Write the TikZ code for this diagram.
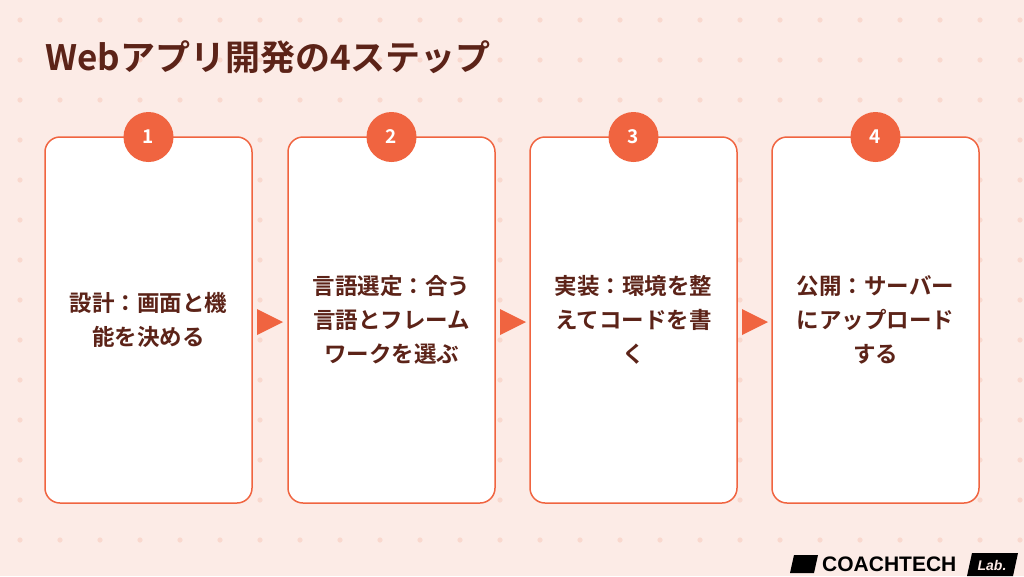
\documentclass[tikz,border=0pt]{standalone}
\usepackage{fontspec}
\newfontfamily\jp{Noto Sans CJK JP Bold}
\newfontfamily\lat{Liberation Sans}
\begin{document}
\begin{tikzpicture}[x=1pt,y=-1pt,
  box/.style={draw=acc,line width=1.5pt,fill=white,rounded corners=15pt},
  num/.style={circle,fill=acc,minimum size=50pt,inner sep=0pt,text=white,font=\jp\fontsize{19}{19}\selectfont},
  lbl/.style={align=center,text=brn,font=\jp\fontsize{22.5}{34}\selectfont},
  arr/.style={fill=acc}]
\definecolor{bg}{HTML}{FCEBE6}
\definecolor{dot}{HTML}{F9D8CE}
\definecolor{acc}{HTML}{F06440}
\definecolor{brn}{HTML}{5C2318}
\useasboundingbox (0,0) rectangle (1024,576);
\fill[bg] (0,0) rectangle (1024,576);
\foreach \i in {0,...,25} \foreach \j in {0,...,14}
  \fill[dot] (20+40*\i,20+40*\j) circle (2.6);
\node[anchor=west,text=brn,font=\jp\fontsize{35}{35}\selectfont,inner sep=0] (title) at (45,57) {Webアプリ開発の4ステップ};
\foreach \k/\x/\t in {1/45/{設計：画面と機\\能を決める},2/288/{言語選定：合う\\言語とフレーム\\ワークを選ぶ},3/530/{実装：環境を整\\えてコードを書\\く},4/772/{公開：サーバー\\にアップロード\\する}}{
  \draw[box] (\x,137) rectangle (\x+207,503);
  \node[num] (n\k) at (\x+103.5,137) {\k};
  \node[lbl] (t\k) at (\x+103.5,320) {\t};
}
\foreach \x in {257,500,742}
  \fill[arr] (\x,309) -- (\x+26,322) -- (\x,335) -- cycle;
% logo
\node[anchor=west,inner sep=0,font=\lat\bfseries\fontsize{21}{21}\selectfont] (logo) at (822,564) {COACHTECH};
\fill[black] (794,555) -- (818,555) -- (814,573) -- (790,573) -- cycle;
\fill[black] (972,553) -- (1018,553) -- (1013,576) -- (967,576) -- cycle;
\node[inner sep=0,text=bg,font=\lat\bfseries\itshape\fontsize{14}{14}\selectfont] (lab) at (992,565) {Lab.};
\end{tikzpicture}
\end{document}
